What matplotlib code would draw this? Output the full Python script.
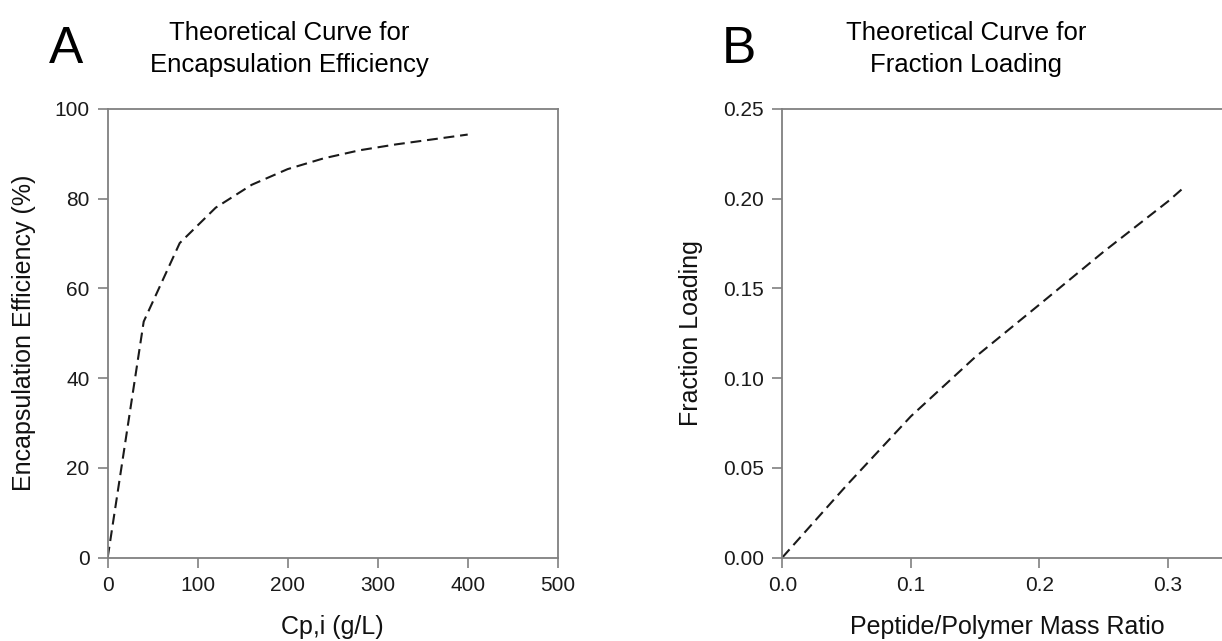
import matplotlib
matplotlib.use("Agg")
import matplotlib.pyplot as plt

plt.rcParams['font.family'] = ['Liberation Sans', 'DejaVu Sans']

# Panel A: encapsulation efficiency vs initial peptide concentration
cp_initial = [0, 40, 80, 120, 160, 200, 240, 280, 320, 360, 400]
encap_eff = [0, 52.6, 70.1, 78.0, 83.1, 86.6, 89.0, 90.8, 92.1, 93.2, 94.3]
a_xticks = [0, 100, 200, 300, 400, 500]
a_yticks = [0, 20, 40, 60, 80, 100]

# Panel B: fraction loading vs peptide/polymer mass ratio
mass_ratio = [0, 0.05, 0.10, 0.15, 0.20, 0.25, 0.30, 0.3116]
frac_loading = [0, 0.0402, 0.0787, 0.1117, 0.1410, 0.1705, 0.1985, 0.2058]
b_xticks = [0.0, 0.1, 0.2, 0.3]
b_yticks = [0.00, 0.05, 0.10, 0.15, 0.20, 0.25]

W, H = 1222, 641
fig = plt.figure(figsize=(W / 100, H / 100), dpi=100)

spine_col = '#808080'
line_kw = dict(color='#1a1a1a', lw=1.5, ls=(0, (5.2, 2.8)))


def px_axes(left, top, right, bottom):
    return fig.add_axes([left / W, 1 - bottom / H, (right - left) / W, (bottom - top) / H])


def style(ax):
    for s in ax.spines.values():
        s.set_color(spine_col)
        s.set_linewidth(1.3)
    ax.tick_params(direction='out', length=7, width=1.2, color=spine_col,
                   labelsize=15, labelcolor='#1a1a1a', pad=6,
                   top=False, right=False)


axA = px_axes(107.7, 109, 557.7, 557.5)
axA.plot(cp_initial, encap_eff, **line_kw)
axA.set_xlim(0, 500)
axA.set_ylim(0, 100)
axA.set_xticks(a_xticks)
axA.set_yticks(a_yticks)
style(axA)
axA.set_xlabel('Cp,i (g/L)', fontsize=18, color='#111111')
axA.set_ylabel('Encapsulation Efficiency (%)', fontsize=18, color='#111111')
axA.xaxis.set_label_coords(0.5, -0.128)
axA.yaxis.set_label_coords(-0.186, 0.5)
axA.yaxis.label.set_va('center')
axA.xaxis.label.set_va('top')

axB = px_axes(782.3, 109, 782.3 + 450, 557.5)
axB.plot(mass_ratio, frac_loading, **line_kw)
axB.set_xlim(0, 0.35)
axB.set_ylim(0, 0.25)
axB.set_xticks(b_xticks)
axB.set_xticklabels(['0.0', '0.1', '0.2', '0.3'])
axB.set_yticks(b_yticks)
axB.set_yticklabels(['%.2f' % v for v in b_yticks])
style(axB)
axB.set_xlabel('Peptide/Polymer Mass Ratio', fontsize=18, color='#111111')
axB.set_ylabel('Fraction Loading', fontsize=18, color='#111111')
axB.xaxis.set_label_coords(0.5, -0.128)
axB.yaxis.set_label_coords(-0.203, 0.5)
axB.yaxis.label.set_va('center')
axB.xaxis.label.set_va('top')

# Panel letters and titles
fig.text(66 / W, 1 - 63 / H, 'A', fontsize=37, ha='center', va='baseline')
fig.text(739 / W, 1 - 63 / H, 'B', fontsize=37, ha='center', va='baseline')
fig.text(289 / W, 1 - 72 / H, 'Theoretical Curve for\nEncapsulation Efficiency',
         fontsize=18.5, ha='center', va='baseline', linespacing=1.42, multialignment='center')
fig.text(966 / W, 1 - 72 / H, 'Theoretical Curve for\nFraction Loading',
         fontsize=18.5, ha='center', va='baseline', linespacing=1.42, multialignment='center')

fig.savefig('out.png', dpi=100)
